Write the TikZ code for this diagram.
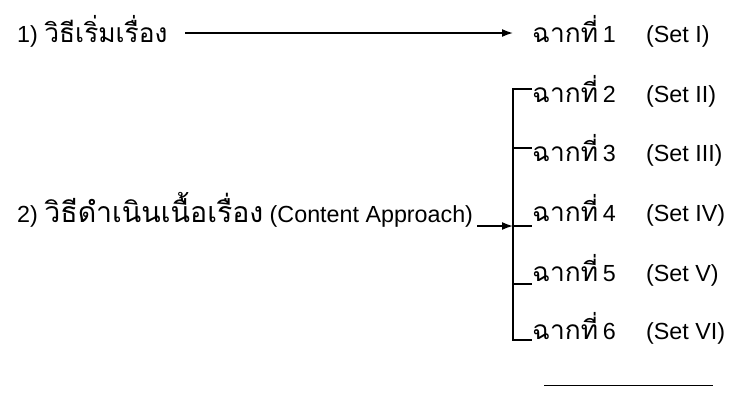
\documentclass[tikz,border=0pt]{standalone}
\usepackage{fontspec}
\setmainfont{Liberation Sans}
\newfontfamily\thaifont[Script=Thai,Scale=1.13]{Loma}
\usetikzlibrary{arrows.meta}
\begin{document}
\begin{tikzpicture}[x=1pt,y=-1pt,
  lbl/.style={anchor=base west,inner sep=0pt,font=\fontsize{23.3}{28}\selectfont},
  conn/.style={line width=1.6pt},
  arr/.style={conn,-{Latex[length=11pt,width=8pt]}}]
\useasboundingbox (0,0) rectangle (732,394);
\node[lbl] (m1) at (17,42) {1) {\thaifont วิธีเริ่มเรื่อง}};
\node[lbl] (m2) at (17,222) {2) {\fontsize{25.2}{28}\thaifont วิธีดำเนินเนื้อเรื่อง} (Content Approach)};
\node[lbl] (s1) at (532,42) {{\thaifont ฉากที่}\hspace{0.2em}1\hspace{1.3em}(Set I)};
\node[lbl] (s2) at (532,102) {{\thaifont ฉากที่}\hspace{0.2em}2\hspace{1.3em}(Set II)};
\node[lbl] (s3) at (532,161) {{\thaifont ฉากที่}\hspace{0.2em}3\hspace{1.3em}(Set III)};
\node[lbl] (s4) at (532,221) {{\thaifont ฉากที่}\hspace{0.2em}4\hspace{1.3em}(Set IV)};
\node[lbl] (s5) at (532,281) {{\thaifont ฉากที่}\hspace{0.2em}5\hspace{1.3em}(Set V)};
\node[lbl] (s6) at (532,339) {{\thaifont ฉากที่}\hspace{0.2em}6\hspace{1.3em}(Set VI)};
\coordinate (a1s) at (185,33);
\coordinate (a1e) at (513,33);
\coordinate (vt) at (513,89);
\coordinate (vb) at (513,340);
\coordinate (a2s) at (477,226);
\coordinate (a2e) at (513,226);
\coordinate (bl1) at (544,385);
\coordinate (bl2) at (713,385);
\draw[arr] (a1s) -- (a1e);
\draw[conn] (532,89) -- (vt) -- (vb) -- (532,340);
\draw[conn] (513,148) -- (532,148);
\draw[conn] (513,226) -- (532,226);
\draw[conn] (513,284) -- (532,284);
\draw[arr] (a2s) -- (a2e);
\draw[line width=0.9pt] (bl1) -- (bl2);
\end{tikzpicture}
\end{document}
